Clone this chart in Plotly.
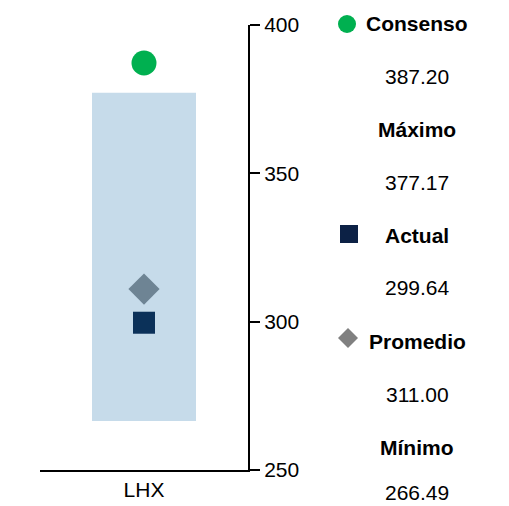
import plotly.graph_objects as go

categories = ["LHX"]
minimo = [266.49]
maximo = [377.17]
consenso = [387.20]
actual = [299.64]
promedio = [311.00]

legend_labels = ["Consenso", "Máximo", "Actual", "Promedio", "Mínimo"]
legend_values = [consenso[0], maximo[0], actual[0], promedio[0], minimo[0]]

FONT = "Liberation Sans, Arial, sans-serif"
FS = 21
OFF = 8  # page body margin

W, H = 509, 506
L, T, PW, PH = 248 - 208 - OFF, 25 - OFF, 208, 445

def px(x): return (x - OFF - L) / PW
def py(y): return (T + PH - (y - OFF)) / PH

fig = go.Figure()
fig.add_trace(go.Bar(
    x=categories, y=[maximo[0] - minimo[0]], base=minimo,
    marker=dict(color="#c6dbea", line=dict(width=0)), width=0.5,
    hoverinfo="skip", showlegend=False))
fig.add_trace(go.Scatter(x=categories, y=consenso, mode="markers",
    marker=dict(symbol="circle", size=25, color="#00b050"), showlegend=False))
fig.add_trace(go.Scatter(x=categories, y=promedio, mode="markers",
    marker=dict(symbol="diamond", size=24, color="#6e8494"), showlegend=False))
fig.add_trace(go.Scatter(x=categories, y=actual, mode="markers",
    marker=dict(symbol="square", size=22, color="#0b3159"), showlegend=False))

# legend texts
y0, step = 22, 53
for i, (lab, val) in enumerate(zip(legend_labels, legend_values)):
    fig.add_annotation(x=px(417), y=py(y0 + 2 * i * step + 1), xref="paper", yref="paper",
                       text="<b>%s</b>" % lab, showarrow=False, xanchor="center", yanchor="middle",
                       font=dict(family=FONT, size=FS, color="black"))
    yv = y0 + (2 * i + 1) * step + 1
    yv = min(yv, 492)
    fig.add_annotation(x=px(417), y=py(yv), xref="paper", yref="paper",
                       text="%.2f" % val, showarrow=False, xanchor="center", yanchor="middle",
                       font=dict(family=FONT, size=FS, color="black"))

# legend symbols
fig.add_shape(type="circle", xref="paper", yref="paper",
              x0=px(338), x1=px(356), y0=py(33), y1=py(15),
              fillcolor="#00b050", line=dict(width=0))
fig.add_shape(type="rect", xref="paper", yref="paper",
              x0=px(340), x1=px(358), y0=py(243), y1=py(225),
              fillcolor="#0c2145", line=dict(width=0))
cx, cy, r = 348, 338, 10
fig.add_shape(type="path", xref="paper", yref="paper",
              path="M %f %f L %f %f L %f %f L %f %f Z" % (
                  px(cx), py(cy - r), px(cx + r), py(cy), px(cx), py(cy + r), px(cx - r), py(cy)),
              fillcolor="#808080", line=dict(width=0))

fig.update_layout(
    template="none",
    width=W, height=H,
    margin=dict(l=L, r=W - L - PW, t=T, b=H - T - PH, pad=0),
    paper_bgcolor="white", plot_bgcolor="white",
    font=dict(family=FONT, size=FS, color="black"),
    showlegend=False, bargap=0.5,
    xaxis=dict(showline=True, linecolor="black", linewidth=2, ticks="",
               showgrid=False, zeroline=False, automargin=False, tickfont=dict(size=FS)),
    yaxis=dict(side="right", range=[250, 400], tickvals=[250, 300, 350, 400],
               showline=True, linecolor="black", linewidth=2,
               ticks="outside", ticklen=10, tickwidth=2, tickcolor="black",
               showgrid=False, zeroline=False, automargin=False, tickfont=dict(size=FS)),
)

fig.write_html("out.html")
